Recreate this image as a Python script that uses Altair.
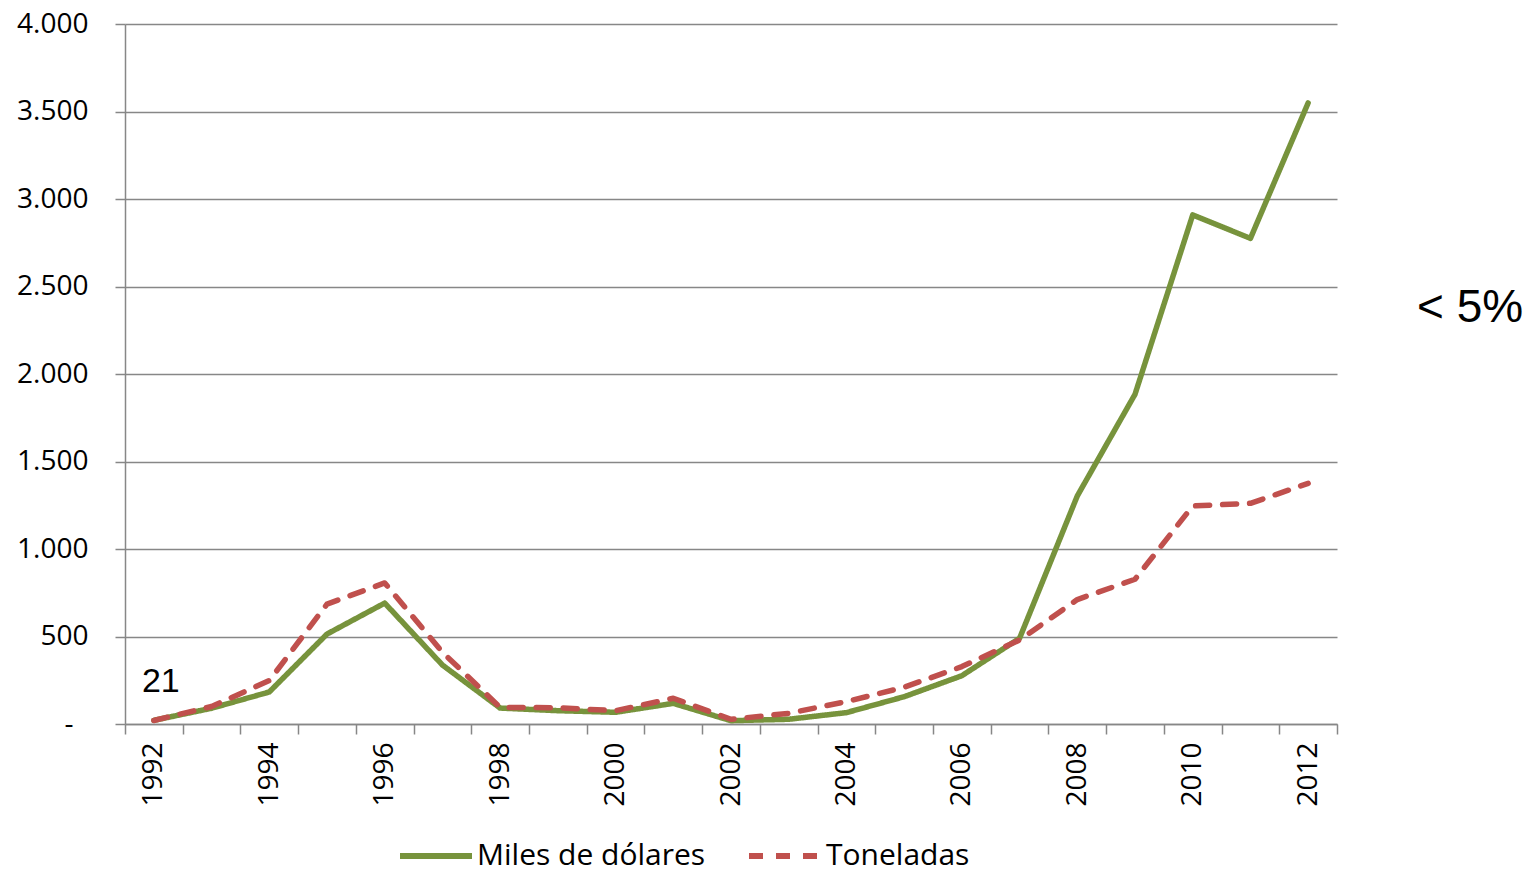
import altair as alt
import pandas as pd

years = list(range(1992, 2013))
miles_dolares = [21, 90, 183, 514, 691, 337, 91, 76, 67, 118, 19, 27, 65, 156, 276, 490, 1303, 1884, 2909, 2775, 3549]
toneladas = [20, 100, 248, 685, 806, 410, 95, 93, 76, 147, 27, 61, 128, 210, 328, 480, 711, 827, 1246, 1261, 1375]
series_names = ["Miles de dólares", "Toneladas"]
series_colors = ["#77933C", "#C0504D"]
y_ticks = [0, 500, 1000, 1500, 2000, 2500, 3000, 3500, 4000]
point_label_year = [1992]
point_label_value = [21]
annotation = ["< 5%"]

rows = []
for yr, m, t in zip(years, miles_dolares, toneladas):
    rows.append({"year": yr, "series": series_names[0], "value": m})
    rows.append({"year": yr, "series": series_names[1], "value": t})
df = pd.DataFrame(rows)

grid_gray = "#878787"

x_enc = alt.X(
    "year:O",
    scale=alt.Scale(type="band", paddingInner=0, paddingOuter=0),
    bandPosition=0.5,
    axis=alt.Axis(
        title=None,
        labelAngle=270,
        labelExpr="datum.value % 2 == 0 ? datum.label : ''",
        tickBand="extent",
        tickSize=10,
        tickColor=grid_gray,
        tickWidth=1.5,
        domainColor=grid_gray,
        domainWidth=1.5,
        labelFont="Open Sans",
        labelFontSize=28,
        labelColor="black",
        labelPadding=8,
        labelOverlap=False,
        grid=False,
    ),
)

y_enc = alt.Y(
    "value:Q",
    scale=alt.Scale(domain=[0, 4000], nice=False),
    axis=alt.Axis(
        title=None,
        values=y_ticks,
        labelExpr="datum.value == 0 ? '-' : replace(format(datum.value, ','), ',', '.')",
        grid=True,
        gridColor=grid_gray,
        gridWidth=1.5,
        tickSize=10,
        tickColor=grid_gray,
        tickWidth=1.5,
        domainColor=grid_gray,
        domainWidth=1.5,
        labelFont="Open Sans",
        labelFontSize=28,
        labelColor="black",
        labelPadding={"condition": {"test": "datum.value === 0", "value": 42}, "value": 27},
    ),
)

lines = alt.Chart(df).mark_line(strokeWidth=5.5, strokeCap="round", strokeJoin="round").encode(
    x=x_enc,
    y=y_enc,
    color=alt.Color(
        "series:N",
        scale=alt.Scale(domain=series_names, range=series_colors),
        legend=alt.Legend(title=None),
    ),
    strokeDash=alt.StrokeDash(
        "series:N",
        scale=alt.Scale(domain=series_names, range=[[1, 0], [14, 13]]),
        legend=alt.Legend(title=None),
    ),
)

label_df = pd.DataFrame({"year": point_label_year, "value": point_label_value})
point_label = alt.Chart(label_df).mark_text(
    font="Liberation Sans", fontSize=34, color="black", align="center", baseline="alphabetic", dx=7, dy=-28
).encode(
    x=alt.X("year:O"),
    y=alt.Y("value:Q"),
    text=alt.Text("value:Q"),
)

note = alt.Chart(pd.DataFrame({"t": annotation})).mark_text(
    font="Liberation Sans", fontSize=46, color="black", align="left", baseline="alphabetic"
).encode(
    x=alt.value(1292),
    y=alt.value(298),
    text="t:N",
)

chart = (
    alt.layer(lines, point_label, note)
    .properties(
        width=1212,
        height=700,
        padding={"left": 117, "top": 16, "right": 190, "bottom": 148},
        autosize=alt.AutoSizeParams(type="none"),
        background="white",
    )
    .configure_view(stroke=None)
    .configure_legend(
        orient="none",
        legendX=272,
        legendY=793,
        direction="horizontal",
        symbolType="stroke",
        symbolSize=5184,
        symbolStrokeWidth=6,
        labelFont="Open Sans",
        labelFontSize=30,
        labelColor="black",
        labelOffset=2,
        columnPadding=31,
        labelLimit=0,
        padding=0,
    )
)

chart.save("out.html", embed_options={"renderer": "svg", "actions": False})
